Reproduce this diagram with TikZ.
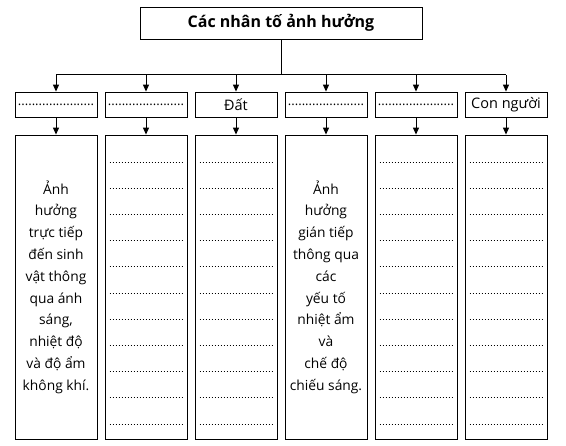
\documentclass[tikz,border=0pt]{standalone}
\usepackage{fontspec}
\setmainfont{Open Sans}
\usetikzlibrary{arrows.meta}
\begin{document}
\begin{tikzpicture}[x=1pt,y=-1pt,
  titlebox/.style={draw, line width=0.9pt, minimum width=282pt, minimum height=32pt, inner sep=0pt, font=\fontsize{16}{19}\selectfont\bfseries},
  headbox/.style={draw, line width=0.8pt, minimum width=82pt, minimum height=25pt, inner sep=0pt, font=\fontsize{14.5}{17}\selectfont},
  dotfont/.style={font=\fontsize{13}{15}\selectfont},
  colbox/.style={draw, line width=0.8pt, minimum width=82pt, minimum height=304pt, inner sep=0pt, align=center, font=\fontsize{13.8}{21.8}\selectfont},
  link/.style={line width=1pt},
  arr/.style={line width=1pt, -{Triangle[length=7pt,width=6pt]}},
  dotline/.style={line width=0.6pt, dash pattern=on 0.6pt off 2.4pt}
]
\useasboundingbox (0,0) rectangle (566,446);
\node[titlebox] (t) at (281,23) {Các nhân tố ảnh hưởng};
\coordinate (j) at (281,75);
% row 2
\node[headbox,dotfont] (h1) at (56,104.5) {......................};
\node[headbox,dotfont] (h2) at (146,104.5) {......................};
\node[headbox] (h3) at (236,104.5) {Đất};
\node[headbox,dotfont] (h4) at (326,104.5) {......................};
\node[headbox,dotfont] (h5) at (416,104.5) {......................};
\node[headbox] (h6) at (506,104.5) {Con người};
% row 3
\node[colbox] (b1) at (56,287) {Ảnh\\hưởng\\trực tiếp\\đến sinh\\vật thông\\qua ánh\\sáng,\\nhiệt độ\\và độ ẩm\\không khí.};
\node[colbox] (b2) at (146,287) {};
\node[colbox] (b3) at (236,287) {};
\node[colbox] (b4) at (326,287) {Ảnh\\hưởng\\gián tiếp\\thông qua\\các\\yếu tố\\nhiệt ẩm\\và\\chế độ\\chiếu sáng.};
\node[colbox] (b5) at (416,287) {};
\node[colbox] (b6) at (506,287) {};
% connectors
\draw[link] (t.south) -- (j);
\draw[link] (h1.north |- j) -- (h6.north |- j);
\foreach \i in {1,...,6}{
  \draw[arr] (h\i.north |- j) -- (h\i.north);
  \draw[arr] (h\i.south) -- (b\i.north);
}
% dotted writing lines
\foreach \c in {2,3,5,6}{
  \foreach \k in {0,...,10}{
    \draw[dotline] ([xshift=5pt]b\c.west |- 0,{162+26.2*\k}) -- ([xshift=-3pt]b\c.east |- 0,{162+26.2*\k});
  }
}
\end{tikzpicture}
\end{document}
